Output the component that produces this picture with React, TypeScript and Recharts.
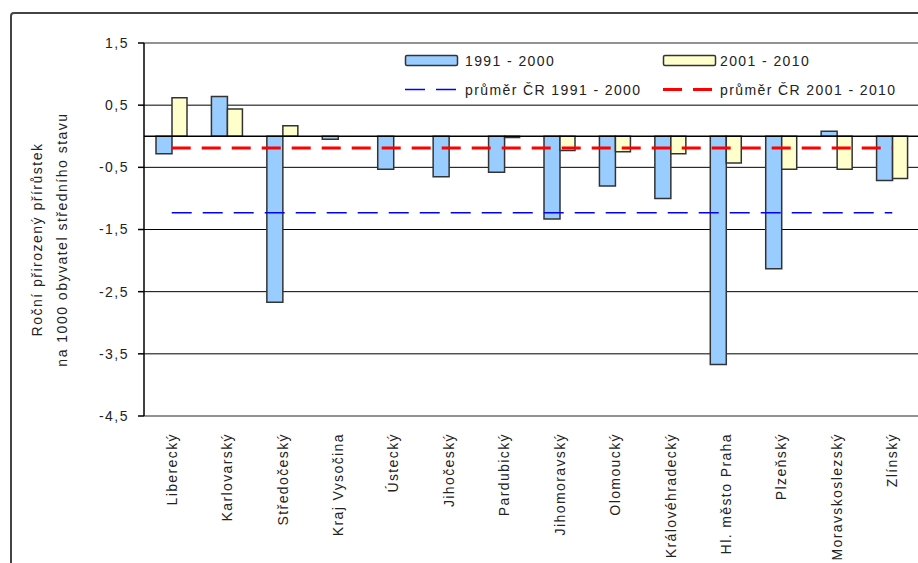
import React from 'react';
import {
  ComposedChart,
  Bar,
  Line,
  XAxis,
  YAxis,
  CartesianGrid,
  ReferenceLine,
} from 'recharts';

// Regions of the Czech Republic
const regions = [
  'Liberecký',
  'Karlovarský',
  'Středočeský',
  'Kraj Vysočina',
  'Ústecký',
  'Jihočeský',
  'Pardubický',
  'Jihomoravský',
  'Olomoucký',
  'Královéhradecký',
  'Hl. město Praha',
  'Plzeňský',
  'Moravskoslezský',
  'Zlínský',
];

// Annual natural increase per 1000 mid-year population
const period1991 = [-0.28, 0.64, -2.67, -0.05, -0.53, -0.65, -0.58, -1.33, -0.8, -1.0, -3.67, -2.13, 0.08, -0.71];
const period2001 = [0.62, 0.44, 0.17, 0.0, 0.0, 0.0, -0.02, -0.23, -0.25, -0.28, -0.43, -0.53, -0.53, -0.68];

// Czech Republic averages
const avgCR1991 = -1.23;
const avgCR2001 = -0.19;

const yTicks = [1.5, 0.5, -0.5, -1.5, -2.5, -3.5, -4.5];

const legendLabels = ['1991 - 2000', '2001 - 2010', 'průměr ČR 1991 - 2000', 'průměr ČR 2001 - 2010'];

const rows = regions.map((name, i) => ({
  name,
  p1: period1991[i],
  p2: period2001[i],
  avg1: avgCR1991,
  avg2: avgCR2001,
}));

const FONT = '"Liberation Sans", Arial, Helvetica, sans-serif';
const TEXT = '#222';
const BLUE_BAR = '#99CCFF';
const YELLOW_BAR = '#FFFFCC';

const fmt = (v: number) => v.toFixed(1).replace('.', ',');

const RegionTick = (props: any) => {
  const { x, y, payload } = props;
  return (
    <text
      x={x}
      y={y}
      transform={`rotate(-90, ${x}, ${y})`}
      textAnchor="end"
      dy="0.36em"
      fontSize={14}
      fontFamily={FONT}
      fill={TEXT}
      style={{ letterSpacing: 1.4 }}
    >
      {payload.value}
    </text>
  );
};

const YTitle = (props: any) => {
  const vb = props.viewBox || { x: 0, y: 43, width: 144, height: 373 };
  const cy = vb.y + vb.height / 2 + 10;
  const x1 = vb.x + 37;
  const x2 = vb.x + 62;
  const common = {
    textAnchor: 'middle' as const,
    fontSize: 14,
    fontFamily: FONT,
    fill: TEXT,
    dy: '0.36em',
    style: { letterSpacing: 1.5 },
  };
  return (
    <g>
      <text x={x1} y={cy} transform={`rotate(-90, ${x1}, ${cy})`} {...common}>
        Roční přirozený přírůstek
      </text>
      <text x={x2} y={cy} transform={`rotate(-90, ${x2}, ${cy})`} {...common}>
        na 1000 obyvatel středního stavu
      </text>
    </g>
  );
};

const LegendBox = () => {
  const t = {
    fontSize: 14,
    fontFamily: FONT,
    fill: TEXT,
    style: { letterSpacing: 1.4 },
  };
  return (
    <svg width={918} height={563} style={{ position: 'absolute', left: 0, top: 0, pointerEvents: 'none' }}>
      <rect x={405.5} y={55.5} width={52} height={10} rx={1.5} fill={BLUE_BAR} stroke="#333" strokeWidth={1.5} />
      <text x={465} y={65.5} {...t}>{legendLabels[0]}</text>
      <rect x={663.5} y={55.5} width={52} height={10} rx={1.5} fill={YELLOW_BAR} stroke="#333" strokeWidth={1.5} />
      <text x={720} y={65.5} {...t}>{legendLabels[1]}</text>
      <line x1={405} x2={456} y1={89.5} y2={89.5} stroke="#0000FF" strokeWidth={1.5} strokeDasharray="20 11" />
      <text x={465} y={95} {...t}>{legendLabels[2]}</text>
      <line x1={663} x2={712} y1={89.5} y2={89.5} stroke="#FF0000" strokeWidth={3} strokeDasharray="19 11" />
      <text x={720} y={95} {...t}>{legendLabels[3]}</text>
    </svg>
  );
};

export default function App() {
  return (
    <div
      style={{
        position: 'fixed',
        left: 0,
        top: 0,
        width: 918,
        height: 563,
        overflow: 'hidden',
        background: '#fff',
      }}
    >
      <div
        style={{
          position: 'absolute',
          left: 10,
          top: 12,
          width: 1000,
          height: 700,
          border: '2px solid #444',
          borderRadius: 4,
          boxSizing: 'border-box',
        }}
      />
      <div style={{ position: 'absolute', left: 0, top: 0 }}>
        <ComposedChart
          width={1000}
          height={620}
          data={rows}
          margin={{ top: 43, right: 80, bottom: 54, left: 0 }}
          barGap={0}
          barCategoryGap={0}
        >
          <CartesianGrid vertical={false} stroke="#000" strokeWidth={1} />
          <XAxis
            dataKey="name"
            interval={0}
            height={150}
            tickLine={false}
            tickSize={6}
            tickMargin={11}
            axisLine={{ stroke: '#999', strokeWidth: 1.5 }}
            tick={<RegionTick />}
          />
          <YAxis
            width={144}
            domain={[-4.5, 1.5]}
            ticks={yTicks}
            allowDataOverflow
            tickFormatter={fmt}
            tickSize={6}
            tickMargin={9}
            tickLine={{ stroke: '#000', strokeWidth: 1.5 }}
            axisLine={{ stroke: '#000', strokeWidth: 1.5 }}
            tick={{ fontSize: 14, fontFamily: FONT, fill: TEXT, style: { letterSpacing: 1.5 } }}
            label={<YTitle />}
          />
          <ReferenceLine y={1.5} stroke="#999" strokeWidth={1.5} />
          <ReferenceLine y={0} stroke="#000" strokeWidth={1.5} />
          <Bar dataKey="p1" fill={BLUE_BAR} stroke="#333" strokeWidth={1.5} barSize={16} isAnimationActive={false} />
          <Bar dataKey="p2" fill={YELLOW_BAR} stroke="#333" strokeWidth={1.5} barSize={15} isAnimationActive={false} />
          <Line
            dataKey="avg1"
            stroke="#0000FF"
            strokeWidth={1.5}
            strokeDasharray="20 11"
            dot={false}
            activeDot={false}
            isAnimationActive={false}
          />
          <Line
            dataKey="avg2"
            stroke="#FF0000"
            strokeWidth={3}
            strokeDasharray="19 11"
            dot={false}
            activeDot={false}
            isAnimationActive={false}
          />
        </ComposedChart>
      </div>
      <LegendBox />
    </div>
  );
}
